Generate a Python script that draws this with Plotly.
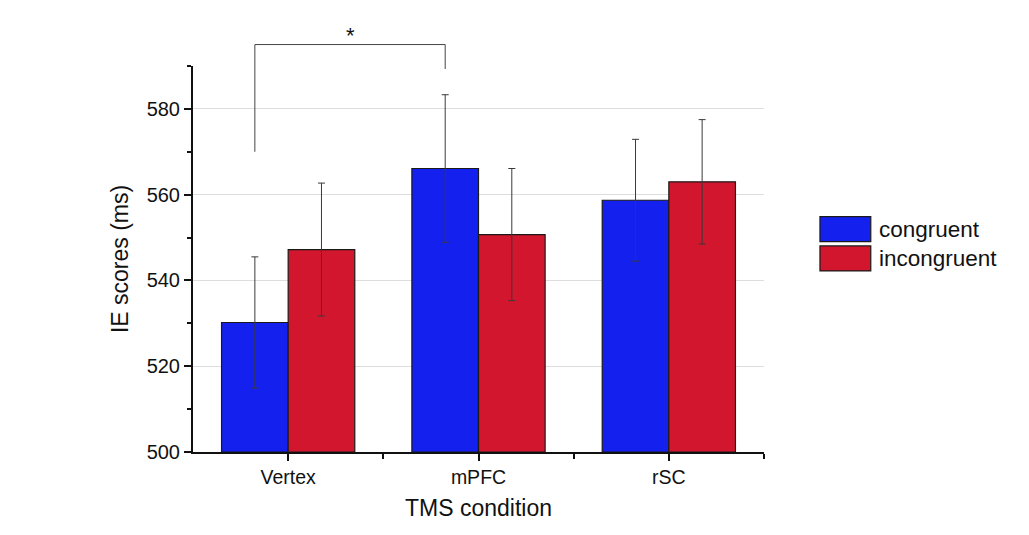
import plotly.graph_objects as go

categories = ["Vertex", "mPFC", "rSC"]
congruent = [530.2, 566.1, 558.7]
congruent_err = [15.3, 17.2, 14.2]
incongruent = [547.2, 550.7, 563.0]
incongruent_err = [15.5, 15.4, 14.5]
series_names = ["congruent", "incongruent"]
colors = ["#1420ee", "#d2162e"]

# significance bracket: between Vertex-congruent and mPFC-congruent
bracket_left_bottom = 570.0
bracket_top = 595.0
bracket_right_bottom = 589.3
sig_label = "*"

Y_MIN, Y_MAX = 500, 590
X_MIN, X_MAX = -0.5, 2.5
GROUP_W = 0.7
xs = list(range(len(categories)))

fig = go.Figure()
for name, vals, errs, col in [(series_names[0], congruent, congruent_err, colors[0]),
                              (series_names[1], incongruent, incongruent_err, colors[1])]:
    fig.add_trace(go.Bar(
        x=xs, y=[v - Y_MIN for v in vals], base=Y_MIN, name=name,
        marker=dict(color=col, line=dict(color="#1a1a1a", width=1.2)),
        error_y=dict(type="data", array=errs, color="#3a3a3a", thickness=1, width=3.5),
        showlegend=False,
    ))

def px_x(v):
    return (v - X_MIN) / (X_MAX - X_MIN)

def px_y(v):
    return (v - Y_MIN) / (Y_MAX - Y_MIN)

off = GROUP_W / 4
xl = px_x(xs[0] - off)
xr = px_x(xs[1] - off)
line_style = dict(color="#444444", width=1)
fig.add_shape(type="line", xref="paper", yref="paper", x0=xl, x1=xl,
              y0=px_y(bracket_left_bottom), y1=px_y(bracket_top), line=line_style)
fig.add_shape(type="line", xref="paper", yref="paper", x0=xl, x1=xr,
              y0=px_y(bracket_top), y1=px_y(bracket_top), line=line_style)
fig.add_shape(type="line", xref="paper", yref="paper", x0=xr, x1=xr,
              y0=px_y(bracket_right_bottom), y1=px_y(bracket_top), line=line_style)
fig.add_annotation(xref="paper", yref="paper", x=(xl + xr) / 2, y=px_y(bracket_top),
                   text=sig_label, showarrow=False, yanchor="bottom",
                   font=dict(size=22, color="#111"), yshift=-5, xshift=-6)

# manual legend
leg_x0, leg_x1 = 1.098, 1.187
leg_rows = [(0.610, 0.545), (0.534, 0.469)]
for (ya, yb), name, col in zip(leg_rows, series_names, colors):
    fig.add_shape(type="rect", xref="paper", yref="paper", x0=leg_x0, x1=leg_x1,
                  y0=yb, y1=ya, fillcolor=col, line=dict(color="#1a1a1a", width=1.2))
    fig.add_annotation(xref="paper", yref="paper", x=1.198, y=(ya + yb) / 2,
                       text=name, showarrow=False, xanchor="left", yanchor="middle",
                       font=dict(size=22.5, color="#111"))

fig.update_layout(
    width=1029, height=535,
    margin=dict(l=193, r=265, t=66, b=83),
    paper_bgcolor="white", plot_bgcolor="white",
    barmode="group", bargap=0.3, bargroupgap=0,
    font=dict(family="Liberation Sans, Arial, sans-serif", color="#111"),
    xaxis=dict(
        range=[X_MIN, X_MAX], tickvals=xs, ticktext=categories,
        ticks="outside", ticklen=7, tickwidth=1.5, tickcolor="#111",
        showline=True, linecolor="#111", linewidth=2, showgrid=False, zeroline=False,
        tickfont=dict(size=19.5),
        minor=dict(tickvals=[0.5, 1.5, 2.5], ticks="outside", ticklen=5, tickwidth=1.5, tickcolor="#111"),
        title=dict(text="TMS condition", font=dict(size=23), standoff=12),
    ),
    yaxis=dict(
        range=[Y_MIN, Y_MAX], tick0=500, dtick=20,
        ticks="outside", ticklen=7, tickwidth=1.5, tickcolor="#111",
        showline=True, linecolor="#111", linewidth=2,
        showgrid=True, gridcolor="#dddddd", gridwidth=1, zeroline=False,
        tickfont=dict(size=20),
        minor=dict(dtick=10, tick0=500, ticks="outside", ticklen=4, tickwidth=1.5, tickcolor="#111", showgrid=False),
        title=dict(text="IE scores (ms)", font=dict(size=23), standoff=12),
    ),
)

fig.write_html("out.html")
